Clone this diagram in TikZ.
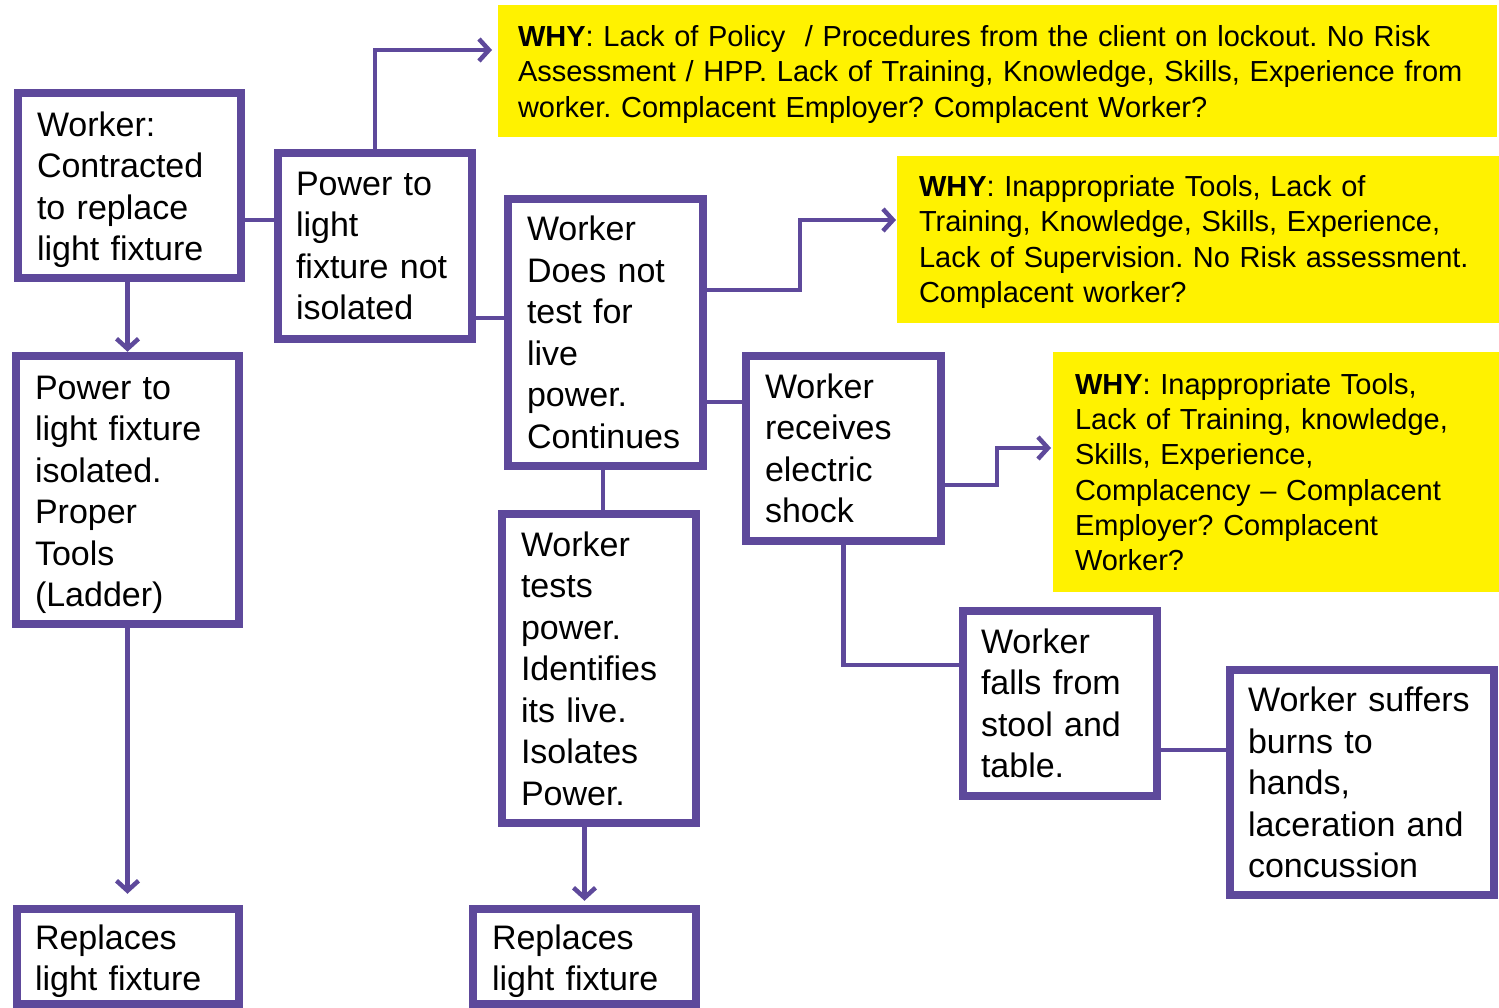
\documentclass[tikz,border=0pt]{standalone}
\usepackage{fontspec}
\setmainfont{Liberation Sans}
\usetikzlibrary{arrows.meta}
\definecolor{vio}{RGB}{94,73,155}
\frenchspacing

\begin{document}
\begin{tikzpicture}[x=1pt, y=-1pt,
    stepbox/.style={draw=vio, line width=8.5pt, fill=white, align=left, inner ysep=0pt,
      font=\fontsize{34}{41.5}\selectfont},
    why/.style={fill=yellow, align=left, inner ysep=0pt, outer sep=0pt,
      font=\fontsize{29}{35.3}\selectfont},
    link/.style={draw=vio, line width=4.5pt},
    arrow/.style={link, -{Straight Barb[length=10pt, width=22pt]}}
  ]
    \useasboundingbox (0,0) rectangle (1499,1008);

    % worker path on the left
    \node[stepbox, inner xsep=19pt, text width=185pt, text height=33pt, minimum width=223pt, minimum height=185pt] (A) at (129.5,185.5)
      {Worker:\\Contracted\\to replace\\light fixture};
    \node[stepbox, inner xsep=18pt, text width=158pt, minimum width=194pt, minimum height=186pt] (B) at (375,246)
      {Power to\\light\\fixture not\\isolated};
    \node[stepbox, inner xsep=19pt, text width=185pt, text height=33pt, minimum width=223pt, minimum height=268pt] (C) at (127.5,490)
      {Power to\\light fixture\\isolated.\\Proper\\Tools\\(Ladder)};
    \node[stepbox, inner xsep=18pt, text width=186pt, text height=34pt, minimum width=222pt, minimum height=95pt] (D) at (128,956.5)
      {Replaces\\light fixture};
    \node[stepbox, inner xsep=19pt, text width=157pt, minimum width=195pt, minimum height=267pt] (E) at (605.5,332.5)
      {Worker\\Does not\\test for\\live\\power.\\Continues};
    \node[stepbox, inner xsep=19pt, text width=156pt, minimum width=194pt, minimum height=309pt] (F) at (599,668.5)
      {Worker\\tests\\power.\\Identifies\\its live.\\Isolates\\Power.};
    \node[stepbox, inner xsep=19pt, text width=185pt, text height=34pt, minimum width=223pt, minimum height=95pt] (G) at (584.5,956.5)
      {Replaces\\light fixture};
    \node[stepbox, inner xsep=19pt, text width=157pt, minimum width=195pt, minimum height=185pt] (H) at (843.5,448.5)
      {Worker\\receives\\electric\\shock};
    \node[stepbox, inner xsep=18pt, text width=158pt, minimum width=194pt, minimum height=185pt] (I) at (1060,703.5)
      {Worker\\falls from\\stool and\\table.};
    \node[stepbox, inner xsep=18pt, text width=228pt, minimum width=264pt, minimum height=225pt] (J) at (1362,782.5)
      {Worker suffers\\burns to\\hands,\\laceration and\\concussion};

    % why boxes
    \node[why, inner xsep=20pt, text width=959pt, text height=28pt, minimum width=999pt, minimum height=132pt] (Y1) at (997.5,71)
      {\textbf{WHY}: Lack of Policy~ / Procedures from the client on lockout. No Risk\\
       Assessment / HPP. Lack of Training, Knowledge, Skills, Experience from\\
       worker. Complacent Employer? Complacent Worker?};
    \node[why, inner xsep=22pt, text width=558pt, text height=26pt, minimum width=602pt, minimum height=167pt] (Y2) at (1198,239.5)
      {\textbf{WHY}: Inappropriate Tools, Lack of\\
       Training, Knowledge, Skills, Experience,\\
       Lack of Supervision. No Risk assessment.\\
       Complacent worker?};
    \node[why, inner xsep=22pt, text width=402pt, minimum width=446pt, minimum height=240pt] (Y3) at (1276,472)
      {\textbf{WHY}: Inappropriate Tools,\\
       Lack of Training, knowledge,\\
       Skills, Experience,\\
       Complacency -- Complacent\\
       Employer? Complacent\\
       Worker?};

    % connectors
    \coordinate (kAB) at (0,220);
    \coordinate (kB) at (0,50);
    \coordinate (kBE) at (0,318);
    \coordinate (kE) at (0,290);
    \coordinate (eTurn) at (800,220);
    \coordinate (kEH) at (0,402);
    \coordinate (kH) at (0,485);
    \coordinate (hTurn) at (997,448);
    \coordinate (kHI) at (0,665);
    \coordinate (kIJ) at (0,750);

    \draw[arrow] (C.north |- A.south) -- (C.north);
    \draw[link] (A.east |- kAB) -- (B.west |- kAB);
    \draw[arrow, shorten >=6pt] (B.north) |- (Y1.west |- kB);
    \draw[link] (B.east |- kBE) -- (E.west |- kBE);
    \draw[arrow, shorten >=1pt] (E.east |- kE) -| (eTurn) -- (Y2.west |- eTurn);
    \draw[link] (E.south -| 603,0) -- (F.north -| 603,0);
    \draw[link] (E.east |- kEH) -- (H.west |- kEH);
    \draw[arrow, shorten >=4pt] (G.north |- F.south) -- (G.north);
    \draw[arrow, shorten >=11pt] (C.south) -- (C.south |- D.north);
    \draw[arrow, shorten >=2pt] (H.east |- kH) -| (hTurn) -- (Y3.west |- hTurn);
    \draw[link] (H.south) |- (I.west |- kHI);
    \draw[link] (I.east |- kIJ) -- (J.west |- kIJ);
\end{tikzpicture}
\end{document}
